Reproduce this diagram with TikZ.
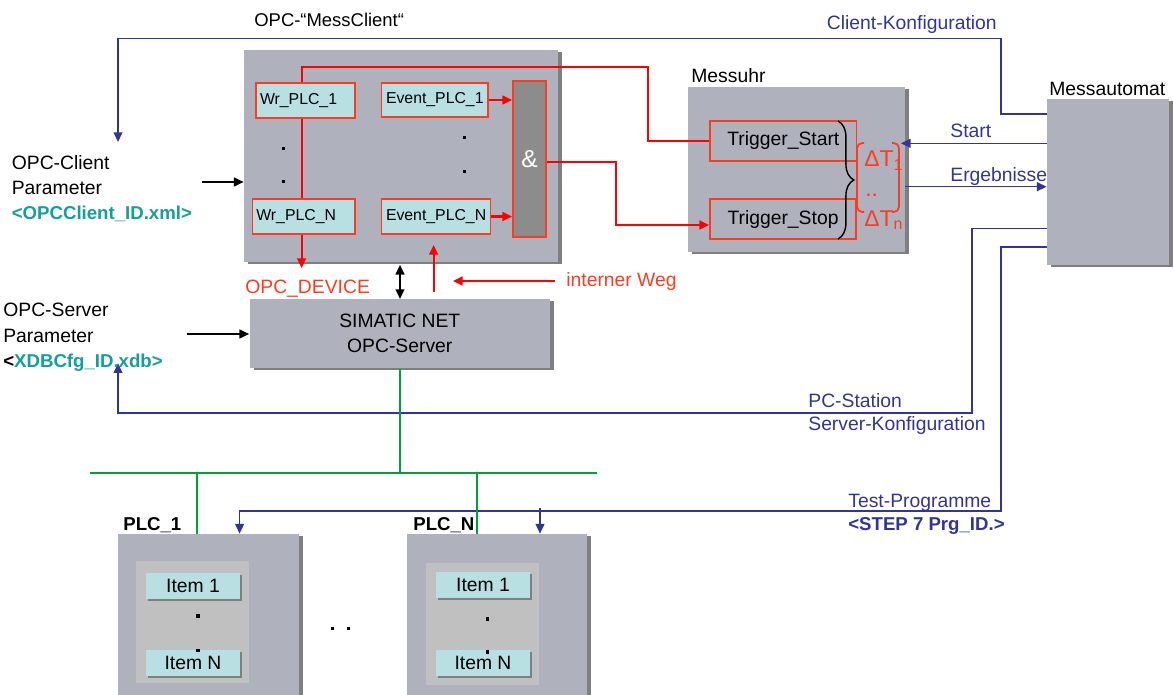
\documentclass[tikz,border=0pt]{standalone}
\usepackage{fontspec}
\setmainfont{Liberation Sans}
\usetikzlibrary{arrows.meta,shadows,fit,decorations.pathreplacing}
\definecolor{boxgray}{HTML}{AFB2BC}
\definecolor{shgray}{HTML}{7F7F7F}
\definecolor{cyanfill}{HTML}{B8E0E3}
\definecolor{redl}{HTML}{FF0000}
\definecolor{ored}{HTML}{FF3B1F}
\definecolor{navy}{HTML}{333399}
\definecolor{tealt}{HTML}{13A09C}
\definecolor{greenl}{HTML}{00A040}
\definecolor{andfill}{HTML}{8C8C8C}
\definecolor{innerg}{HTML}{C0C0C0}
\newcommand\fsmain{\fontsize{11}{13}\selectfont}
\newcommand\fssmall{\fontsize{9}{11}\selectfont}
\newcommand\fsbold{\fontsize{10.6}{13}\selectfont\bfseries}
\newcommand\fsdelta{\fontsize{13}{15}\selectfont}
\begin{document}
\begin{tikzpicture}[x=0.02cm,y=-0.02cm,
  >={Triangle[length=5.5pt,width=5pt]},
  every node/.style={font=\fsmain, inner sep=0pt},
  lbl/.style={anchor=base west},
  wh/.style 2 args={minimum width=#1*0.02cm, minimum height=#2*0.02cm},
  graybox/.style={fill=boxgray, drop shadow={fill=shgray, opacity=1, shadow xshift=0.08cm, shadow yshift=-0.04cm}},
  cyanb/.style={fill=cyanfill, draw=ored, line width=1pt, font=\fssmall},
  trigb/.style={draw=ored, line width=1pt},
  itemb/.style={fill=cyanfill, drop shadow={fill=shgray, opacity=1, shadow xshift=0.04cm, shadow yshift=-0.04cm}},
  redln/.style={draw=redl, line width=1.2pt},
  navyln/.style={draw=navy, line width=0.8pt},
  greenln/.style={draw=greenl, line width=1.3pt},
  blkln/.style={draw=black, line width=0.9pt},
  dotsq/.style={fill=black}
]
\useasboundingbox (0,0) rectangle (1173,695);
\clip (0,0) rectangle (1173,695);

% ---------- boxes ----------
\node[graybox, fit={(244,50)(558,262)}] (client) {};
\node[graybox, fit={(688.4,86.7)(904.5,251.7)}] (uhr) {};
\node[graybox, fit={(1047,99)(1169,265)}] (automat) {};
\node[graybox, wh={300.5}{69}, align=center, font=\fontsize{11}{14.2}\selectfont] (server) at (399.75,333.8) {SIMATIC NET\\OPC-Server};
\node[graybox, fit={(118,534)(298.5,720)}] (plc1) {};
\node[graybox, fit={(407,534)(586.7,720)}] (plcN) {};

% client inner
\node[cyanb, wh={99}{35}, text width=1.82cm, align=left] (wr1) at (305.5,100.5) {Wr\_PLC\_1};
\node[cyanb, wh={102.4}{35}, text width=1.9cm, align=left] (wrN) at (303.8,216.5) {Wr\_PLC\_N};
\node[cyanb, wh={106.4}{34}] (ev1) at (434.8,100) {Event\_PLC\_1};
\node[cyanb, wh={109}{35}] (evN) at (436.1,216.5) {Event\_PLC\_N};
\node[fill=andfill, draw=ored, line width=1pt, wh={33}{156}, font=\fontsize{14}{16}\selectfont, text=white] (andg) at (529.5,159) {\&};
\fill[dotsq] (281.5,147.5) rectangle ++(3,3);
\fill[dotsq] (281.5,180.5) rectangle ++(3,3);
\fill[dotsq] (462.5,136.5) rectangle ++(3,3);
\fill[dotsq] (462.5,170.5) rectangle ++(3,3);

% Messuhr inner
\node[trigb, wh={146.6}{40}] (tstart) at (783.3,141) {Trigger\_Start};
\node[trigb, wh={146}{39.7}] (tstop) at (783,219.15) {Trigger\_Stop};
\draw[line width=0.8pt, decorate, decoration={brace, amplitude=9pt}] (838,121) -- (838,239);
\draw[ored, line width=1pt, rounded corners=3pt] (864,143) -- (857,143) -- (857,212) -- (864,212);
\draw[ored, line width=1pt, rounded corners=3pt] (892,143) -- (899,143) -- (899,212) -- (892,212);
\node[lbl, font=\fsdelta, text=ored] (dt1) at (864,166.5) {ΔT\textsubscript{1}};
\node[lbl, font=\fsdelta, text=ored] (dtdots) at (865,197) {..};
\node[lbl, font=\fsdelta, text=ored] (dtn) at (864,226.5) {ΔT\textsubscript{n}};

% PLC inner
\node[fill=innerg, fit={(136,561)(249,682.7)}] (in1) {};
\node[itemb, wh={94}{26}] (i11) at (193,586) {Item 1};
\node[itemb, wh={94}{26}] (i1n) at (193,663) {Item N};
\fill[dotsq] (196,614) rectangle ++(3.5,3.5);
\fill[dotsq] (196,648.5) rectangle ++(3.5,3.5);
\node[fill=innerg, fit={(426,563)(539,685)}] (inN) {};
\node[itemb, wh={94}{25.7}] (iN1) at (483,584.85) {Item 1};
\node[itemb, wh={94}{26}] (iNn) at (483,663) {Item N};
\fill[dotsq] (485.5,617) rectangle ++(3.5,3.5);
\fill[dotsq] (485.5,650) rectangle ++(3.5,3.5);
\fill[dotsq] (331,627) rectangle ++(2.5,2.5);
\fill[dotsq] (347,627) rectangle ++(2.5,2.5);

% ---------- red connectors ----------
\coordinate (wrx) at (301.6,0);
\draw[redln] (wr1.north -| wrx) |- (648,66.7) |- (tstart.west);
\draw[redln] (wr1.south -| wrx) -- (wrN.north -| wrx);
\draw[redln,->] (wrN.south -| wrx) -- (301.6,268);
\draw[redln,->] (ev1.east) -- (andg.west |- ev1.east);
\draw[redln,->] (evN.east) -- (andg.west |- evN.east);
\draw[redln,->] (andg.east |- 0,162) -| (616.4,225) -- (tstop.west |- 0,225);
\draw[redln,->] (433.6,292) -- (433.6,245);
\draw[redln,->] (555,281) -- (453,281);

% ---------- blue connectors ----------
\draw[navyln,->] (automat.west |- 0,114) -| (1001,38.3) -| (118,142);
\draw[navyln,->, shorten >=-0.08cm] (automat.west |- 0,143.3) -- (uhr.east |- 0,143.3);
\draw[navyln,->] (uhr.east |- 0,186.7) -- (automat.west |- 0,186.7);
\draw[navyln,->] (automat.west |- 0,228.7) -| (972,413) -| (118,363.3);
\draw[navyln,->] (automat.west |- 0,247) -| (1001,511) -| (plc1.north -| 239.6,0);
\draw[navyln,->] (540,508.5) -- (plcN.north -| 540,0);

% ---------- green bus ----------
\coordinate (busL) at (90,473.3);
\coordinate (busR) at (597,473.3);
\draw[greenln] (server.south) -- (server.south |- busL);
\draw[greenln] (busL) -- (busR);
\draw[greenln] (197,473.3) -- (plc1.north -| 197,0);
\draw[greenln] (477,473.3) -- (plcN.north -| 477,0);

% ---------- black arrows ----------
\draw[blkln,->] (202,182) -- (client.west |- 0,182);
\draw[blkln,->] (186.8,334) -- (server.west |- 0,334);
\draw[blkln,<->, shorten <=0.05cm] (client.south -| 400,0) -- (server.north -| 400,0);

% ---------- labels ----------
\node[lbl, font=\fontsize{10.5}{12}\selectfont] (ctitle) at (254,27) {OPC-“MessClient“};
\node[lbl] (uhrlbl) at (691,83) {Messuhr};
\node[lbl] (autlbl) at (1049,96) {Messautomat};
\node[lbl, text=navy] (cklbl) at (826.6,30) {Client-Konfiguration};
\node[lbl, text=navy] (startlbl) at (950,138) {Start};
\node[lbl, text=navy] (erglbl) at (950,182) {Ergebnisse};
\node[lbl, text=navy] (pclbl) at (808,408) {PC-Station};
\node[lbl, text=navy] (srvlbl) at (808,431) {Server-Konfiguration};
\node[lbl, text=navy] (tplbl) at (848,508) {Test-Programme};
\node[lbl, text=navy, font=\fsbold] (steplbl) at (848,531) {<STEP 7 Prg\_ID.>};
\node[lbl] (cp1) at (11.5,170) {OPC-Client};
\node[lbl] (cp2) at (11.5,195) {Parameter};
\node[lbl, font=\fsbold, text=tealt] (cp3) at (11.5,220) {<OPCClient\_ID.xml>};
\node[lbl] (sp1) at (3,317) {OPC-Server};
\node[lbl] (sp2) at (3,343) {Parameter};
\node[lbl, font=\fsbold] (sp3) at (3,368) {<\textcolor{tealt}{XDBCfg\_ID.xdb>}};
\node[lbl, text=ored] (opcdev) at (245,294) {OPC\_DEVICE};
\node[lbl, text=ored] (intweg) at (566,287) {interner Weg};
\node[lbl, font=\fsbold] (plc1lbl) at (123,531) {PLC\_1};
\node[lbl, font=\fsbold] (plcNlbl) at (413,531) {PLC\_N};
\end{tikzpicture}
\end{document}
